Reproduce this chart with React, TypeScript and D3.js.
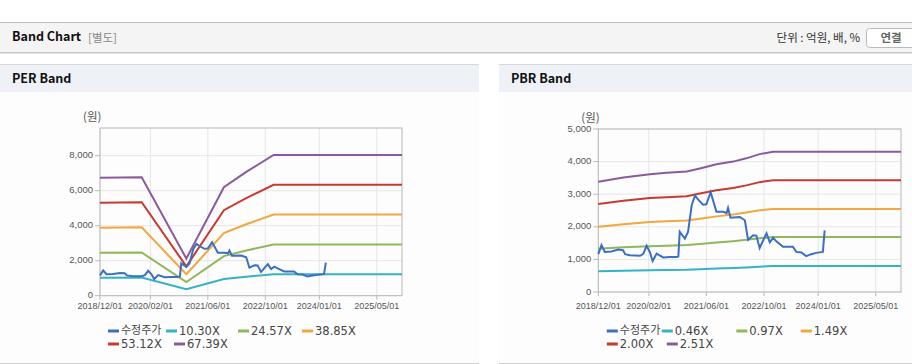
import * as d3 from 'd3'

// PER / PBR band dashboard: two d3 line charts sharing one adjusted-price
// series, inside a flat header + panel frame. Everything is drawn as JSX.

const W = 912
const H = 364
const START = '2018-12-01'
const END = '2025-12-01'

const PRICE_DATES = [
  '2018-12-01', '2018-12-28', '2019-01-25', '2019-03-22', '2019-05-19', '2019-06-28', '2019-07-16',
  '2019-08-25', '2019-11-19', '2019-12-16', '2020-01-13', '2020-02-10', '2020-03-04', '2020-04-07',
  '2020-06-01', '2020-07-28', '2020-09-22', '2020-10-07', '2020-10-19', '2020-12-01', '2020-12-28',
  '2021-01-28', '2021-02-25', '2021-03-22', '2021-05-04', '2021-06-01', '2021-07-07', '2021-08-25',
  '2021-10-22', '2021-11-19', '2021-12-01', '2021-12-22', '2022-03-10', '2022-04-22', '2022-05-19',
  '2022-07-01', '2022-07-28', '2022-08-25', '2022-10-22', '2022-11-19', '2022-12-16', '2023-01-13',
  '2023-03-10', '2023-06-01', '2023-07-01', '2023-08-13', '2023-09-22', '2023-11-04', '2023-12-16',
  '2024-02-10', '2024-02-25',
]
const PRICE = [
  1160, 1440, 1230, 1240, 1300, 1280, 1160,
  1130, 1110, 1170, 1420, 1220, 950, 1180,
  1060, 1070, 1070, 1090, 1850, 1640, 1840,
  2660, 2960, 2840, 2680, 2690, 3060, 2460,
  2460, 2420, 2580, 2280, 2300, 2200, 1600,
  1740, 1730, 1350, 1800, 1520, 1660, 1560,
  1390, 1390, 1230, 1210, 1100, 1160, 1200,
  1230, 1890,
]

const PER_DATES = ['2018-12-01', '2019-11-19', '2020-12-01', '2021-10-15', '2022-04-22', '2022-12-10', '2025-12-01']
const PER_10 = [1030, 1035, 370, 948, 1082, 1229, 1229]
const PER_24 = [2457, 2470, 775, 2260, 2580, 2931, 2931]
const PER_38 = [3885, 3905, 1224, 3574, 4080, 4635, 4635]
const PER_53 = [5312, 5340, 1673, 4887, 5578, 6337, 6337]
const PER_67 = [6739, 6773, 2123, 6200, 7076, 8040, 8040]
const PER_LABELS = ['수정주가', '10.30X', '24.57X', '38.85X', '53.12X', '67.39X']
const PER_Y_TICKS = [0, 2000, 4000, 6000, 8000]

const PBR_DATES = [
  '2018-12-01', '2019-07-01', '2020-02-10', '2020-07-01', '2020-12-16', '2021-04-07',
  '2021-08-25', '2022-01-13', '2022-05-04', '2022-08-25', '2022-12-16', '2025-12-01',
]
const PBR_046 = [635, 655, 668, 675, 682, 700, 720, 738, 755, 778, 795, 795]
const PBR_097 = [1325, 1370, 1405, 1420, 1440, 1475, 1520, 1560, 1600, 1650, 1685, 1685]
const PBR_149 = [2000, 2080, 2150, 2170, 2195, 2250, 2320, 2380, 2440, 2505, 2545, 2545]
const PBR_200 = [2700, 2800, 2880, 2910, 2940, 3020, 3120, 3190, 3270, 3370, 3430, 3430]
const PBR_251 = [3380, 3510, 3615, 3655, 3695, 3790, 3920, 4000, 4100, 4230, 4300, 4300]
const PBR_LABELS = ['수정주가', '0.46X', '0.97X', '1.49X', '2.00X', '2.51X']
const PBR_Y_TICKS = [0, 1000, 2000, 3000, 4000, 5000]

const X_TICKS = ['2018/12/01', '2020/02/01', '2021/06/01', '2022/10/01', '2024/01/01', '2025/05/01']

const COLORS = ['#3b6fc1', '#36b2c7', '#8fb75b', '#f0a83c', '#c73a2f', '#8b5a9c']
const GRID = '#e6e6e6'
const FRAME = '#b8b8b8'
const TICK_TEXT = '#555'
const KR = "'Noto Sans CJK KR', 'Noto Sans', sans-serif"
const LAT = "'Liberation Sans', Arial, sans-serif"

const parseIso = d3.timeParse('%Y-%m-%d')
const parseTick = d3.timeParse('%Y/%m/%d')

type ChartProps = {
  x0: number
  x1: number
  y0: number
  y1: number
  yMax: number
  yTicks: number[]
  bandDates: string[]
  bands: number[][]
  labels: string[]
  legendX: number[][]
}

function BandPlot({ x0, x1, y0, y1, yMax, yTicks, bandDates, bands, labels, legendX }: ChartProps) {
  const x = d3.scaleTime().domain([parseIso(START)!, parseIso(END)!]).range([x0, x1])
  const y = d3.scaleLinear().domain([0, yMax]).range([y1, y0])
  const mk = (dates: string[], vals: number[]) =>
    d3
      .line<number>()
      .x((_, i) => x(parseIso(dates[i])!))
      .y((v) => y(v))(vals) ?? ''

  const rows = [labels.slice(0, 4), labels.slice(4)]
  const rowY = [331, 344]

  return (
    <g>
      {X_TICKS.map((t) => {
        const tx = x(parseTick(t)!)
        return (
          <g key={t}>
            <line x1={tx} x2={tx} y1={y0} y2={y1} stroke={GRID} />
            <line x1={tx} x2={tx} y1={y1} y2={y1 + 4} stroke={FRAME} />
            <text x={tx} y={307} textAnchor="middle" dominantBaseline="middle" fontSize={9} fill={TICK_TEXT} fontFamily={LAT}>
              {t}
            </text>
          </g>
        )
      })}
      {yTicks.map((t) => (
        <g key={t}>
          <line x1={x0} x2={x1} y1={y(t)} y2={y(t)} stroke={GRID} />
          <line x1={x0 - 5} x2={x0} y1={y(t)} y2={y(t)} stroke={FRAME} />
          <text x={x0 - 7} y={y(t)} textAnchor="end" dominantBaseline="middle" fontSize={9.5} fill={TICK_TEXT} fontFamily={LAT}>
            {d3.format(',')(t)}
          </text>
        </g>
      ))}
      <rect x={x0} y={y0} width={x1 - x0} height={y1 - y0} fill="none" stroke={FRAME} />
      <text x={x0 - 17} y={y0 - 10} dominantBaseline="middle" fontSize={11.5} fill={TICK_TEXT} fontFamily={KR}>
        (원)
      </text>
      {bands.map((b, i) => (
        <path key={labels[i + 1]} d={mk(bandDates, b)} fill="none" stroke={COLORS[i + 1]} strokeWidth={2} />
      ))}
      <path d={mk(PRICE_DATES, PRICE)} fill="none" stroke={COLORS[0]} strokeWidth={2} />
      {rows.map((row, r) =>
        row.map((lab, j) => {
          const idx = r * 4 + j
          const lx = x0 + legendX[r][j]
          const kr = /[가-힣]/.test(lab)
          return (
            <g key={lab}>
              <line x1={lx} x2={lx + 11} y1={rowY[r]} y2={rowY[r]} stroke={COLORS[idx]} strokeWidth={3} />
              <text
                x={lx + 13}
                y={rowY[r]}
                dominantBaseline="middle"
                fontSize={kr ? 11 : 11.5}
                fill="#444"
                fontFamily={kr ? KR : "'DejaVu Sans', sans-serif"}
              >
                {lab}
              </text>
            </g>
          )
        }),
      )}
    </g>
  )
}

function Panel({ px, pw, title }: { px: number; pw: number; title: string }) {
  return (
    <g>
      <rect x={px} y={64} width={pw} height={299} fill="#fdfdfd" />
      <rect x={px} y={64} width={pw} height={28} fill="#eef2f7" />
      <line x1={px} x2={px + pw} y1={64.5} y2={64.5} stroke="#d8d8d8" />
      <line x1={px} x2={px + pw} y1={363.5} y2={363.5} stroke="#d0d0d0" />
      <text x={px + 12} y={80} dominantBaseline="middle" fontSize={12.5} fontWeight={700} fill="#111" fontFamily={KR}>
        {title}
      </text>
    </g>
  )
}

export default function App() {
  return (
    <div style={{ position: 'absolute', left: 0, top: 0 }}>
      <svg width={W} height={H} viewBox={`0 0 ${W} ${H}`} style={{ display: 'block', background: '#fff' }}>
        <rect x={0} y={22} width={W} height={30} fill="#f4f4f4" />
        <line x1={0} x2={W} y1={22.5} y2={22.5} stroke="#bdbdbd" />
        <line x1={0} x2={W} y1={52.5} y2={52.5} stroke="#c4c4c4" />
        <line x1={0} x2={W} y1={53.5} y2={53.5} stroke="#e4e4e4" />
        <text x={12} y={38} dominantBaseline="middle" fontSize={12.5} fontWeight={700} fill="#111" fontFamily={KR}>
          Band Chart
        </text>
        <text x={88} y={38.5} dominantBaseline="middle" fontSize={11.5} fill="#888" fontFamily={KR}>
          [별도]
        </text>
        <text x={860} y={38.5} textAnchor="end" dominantBaseline="middle" fontSize={11.5} fill="#333" fontFamily={KR}>
          단위 : 억원, 배, %
        </text>
        <rect x={866.5} y={28.5} width={60} height={19} rx={3} fill="#fff" stroke="#bbb" />
        <text x={891} y={38.5} textAnchor="middle" dominantBaseline="middle" fontSize={11.5} fontWeight={700} fill="#666" fontFamily={KR}>
          연결
        </text>

        <Panel px={0} pw={479} title="PER Band" />
        <Panel px={499} pw={413} title="PBR Band" />

        <BandPlot
          x0={100}
          x1={402}
          y0={128}
          y1={295.7}
          yMax={9583}
          yTicks={PER_Y_TICKS}
          bandDates={PER_DATES}
          bands={[PER_10, PER_24, PER_38, PER_53, PER_67]}
          labels={PER_LABELS}
          legendX={[[8, 66, 138, 202], [8, 74]]}
        />
        <BandPlot
          x0={598.3}
          x1={901}
          y0={129}
          y1={292}
          yMax={5000}
          yTicks={PBR_Y_TICKS}
          bandDates={PBR_DATES}
          bands={[PBR_046, PBR_097, PBR_149, PBR_200, PBR_251]}
          labels={PBR_LABELS}
          legendX={[[8.5, 63.5, 138, 202.5], [8.5, 68.5]]}
        />
      </svg>
    </div>
  )
}
